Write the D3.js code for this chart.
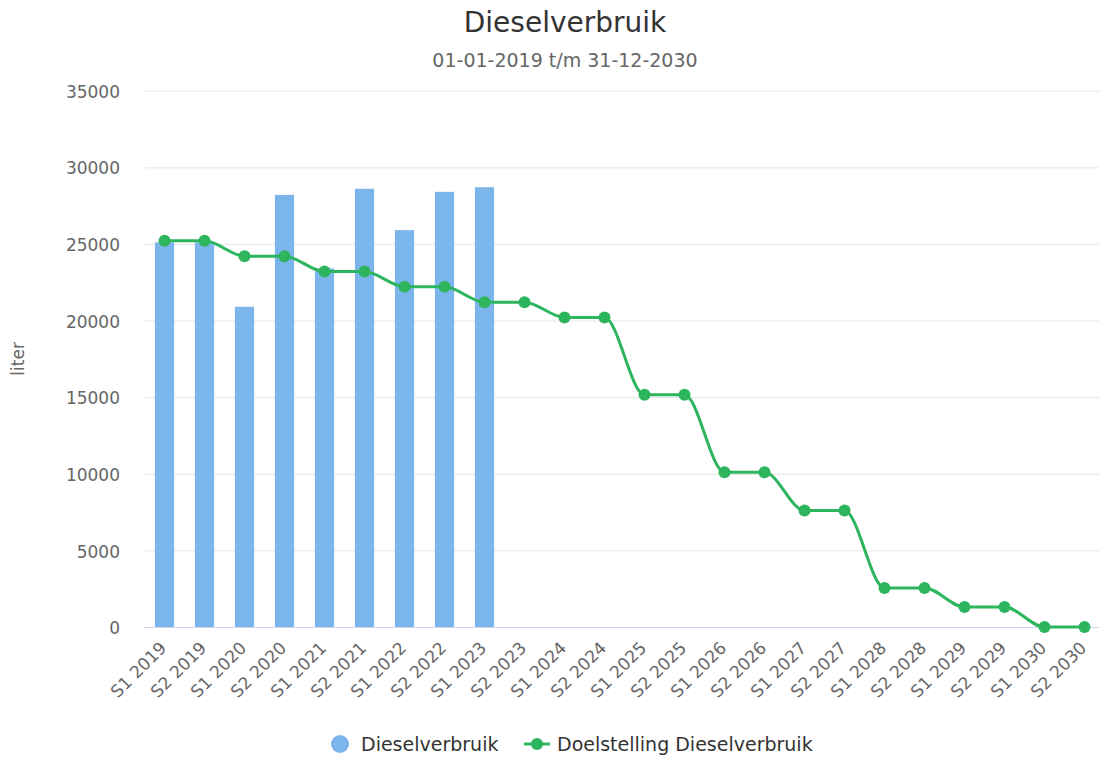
<!DOCTYPE html>
<html>
<head>
<meta charset="utf-8">
<script src="https://cdnjs.cloudflare.com/ajax/libs/d3/7.8.5/d3.min.js"></script>
<style>
  html, body { margin: 0; padding: 0; background: #fff; }
  svg { display: block; font-family: "DejaVu Sans", sans-serif; }
  .grid line { stroke: #e6e6e6; stroke-width: 1; }
  .grid path { display: none; }
  .tick-label { fill: #666; font-size: 17px; }
</style>
</head>
<body>
<svg id="chart" width="1099" height="757"></svg>
<script>
// Categories (half-years)
const categories = [
  'S1 2019', 'S2 2019', 'S1 2020', 'S2 2020', 'S1 2021', 'S2 2021',
  'S1 2022', 'S2 2022', 'S1 2023', 'S2 2023', 'S1 2024', 'S2 2024',
  'S1 2025', 'S2 2025', 'S1 2026', 'S2 2026', 'S1 2027', 'S2 2027',
  'S1 2028', 'S2 2028', 'S1 2029', 'S2 2029', 'S1 2030', 'S2 2030'
];

// Actual consumption (only up to S1 2023)
const verbruik = [25100, 25100, 20900, 28200, 23400, 28600, 25900, 28400, 28700];

// Target consumption
const doelstelling = [
  25200, 25200, 24200, 24200, 23200, 23200, 22200, 22200, 21200, 21200,
  20200, 20200, 15150, 15150, 10100, 10100, 7600, 7600, 2550, 2550,
  1300, 1300, 0, 0
];

const yTicks = [0, 5000, 10000, 15000, 20000, 25000, 30000, 35000];

const svg = d3.select('#chart');

const margin = {left: 144.5, top: 90.7, bottom: 627};
const plotWidth = 960; // plot runs past the right edge, as in the reference

const x = d3.scaleBand()
  .domain(categories)
  .range([margin.left, margin.left + plotWidth]);

const y = d3.scaleLinear()
  .domain([0, 35000])
  .range([margin.bottom, margin.top]);

// Title and subtitle
svg.append('text')
  .attr('x', 565).attr('y', 32)
  .attr('text-anchor', 'middle')
  .attr('fill', '#333')
  .style('font-size', '28px')
  .text('Dieselverbruik');

svg.append('text')
  .attr('x', 565).attr('y', 67)
  .attr('text-anchor', 'middle')
  .attr('fill', '#666')
  .style('font-size', '19px')
  .text('01-01-2019 t/m 31-12-2030');

// Gridlines
svg.append('g')
  .attr('class', 'grid')
  .attr('transform', `translate(${margin.left},0)`)
  .call(d3.axisLeft(y).tickValues(yTicks.slice(1)).tickSize(-plotWidth).tickFormat(''));

// Y tick labels
svg.append('g')
  .selectAll('text')
  .data(yTicks)
  .join('text')
  .attr('class', 'tick-label')
  .attr('x', 120)
  .attr('y', d => y(d))
  .attr('dy', '0.42em')
  .attr('text-anchor', 'end')
  .text(d => d);

// Y axis title
svg.append('text')
  .attr('transform', `translate(24,${(margin.top + margin.bottom) / 2}) rotate(-90)`)
  .attr('text-anchor', 'middle')
  .attr('fill', '#666')
  .style('font-size', '17px')
  .text('liter');

// Bars
const barWidth = x.bandwidth() * 0.48;
svg.append('g')
  .selectAll('rect')
  .data(verbruik)
  .join('rect')
  .attr('x', (d, i) => x(categories[i]) + (x.bandwidth() - barWidth) / 2)
  .attr('y', d => y(d))
  .attr('width', barWidth)
  .attr('height', d => y(0) - y(d))
  .attr('fill', '#7cb5ec');

// X axis line
svg.append('line')
  .attr('x1', margin.left).attr('x2', margin.left + plotWidth)
  .attr('y1', y(0) + 0.5).attr('y2', y(0) + 0.5)
  .attr('stroke', '#ccd6eb');

// X labels
svg.append('g')
  .selectAll('text')
  .data(categories)
  .join('text')
  .attr('class', 'tick-label')
  .attr('text-anchor', 'end')
  .attr('transform', d => `translate(${x(d) + x.bandwidth() / 2 + 3},${y(0) + 22}) rotate(-45)`)
  .text(d => d);

// Target line
const green = '#2db55d';
const line = d3.line()
  .x((d, i) => x(categories[i]) + x.bandwidth() / 2)
  .y(d => y(d))
  .curve(d3.curveMonotoneX);

svg.append('path')
  .datum(doelstelling)
  .attr('d', line)
  .attr('fill', 'none')
  .attr('stroke', green)
  .attr('stroke-width', 3);

svg.append('g')
  .selectAll('circle')
  .data(doelstelling)
  .join('circle')
  .attr('cx', (d, i) => x(categories[i]) + x.bandwidth() / 2)
  .attr('cy', d => y(d))
  .attr('r', 6)
  .attr('fill', green);

// Legend
const legend = svg.append('g');
legend.append('circle')
  .attr('cx', 340).attr('cy', 744).attr('r', 9)
  .attr('fill', '#7cb5ec');
legend.append('text')
  .attr('x', 361).attr('y', 751)
  .attr('fill', '#333')
  .style('font-size', '19px')
  .text('Dieselverbruik');
legend.append('line')
  .attr('x1', 524).attr('x2', 550)
  .attr('y1', 744).attr('y2', 744)
  .attr('stroke', green).attr('stroke-width', 3);
legend.append('circle')
  .attr('cx', 537).attr('cy', 744).attr('r', 6)
  .attr('fill', green);
legend.append('text')
  .attr('x', 557).attr('y', 751)
  .attr('fill', '#333')
  .style('font-size', '19px')
  .text('Doelstelling Dieselverbruik');
</script>
</body>
</html>
